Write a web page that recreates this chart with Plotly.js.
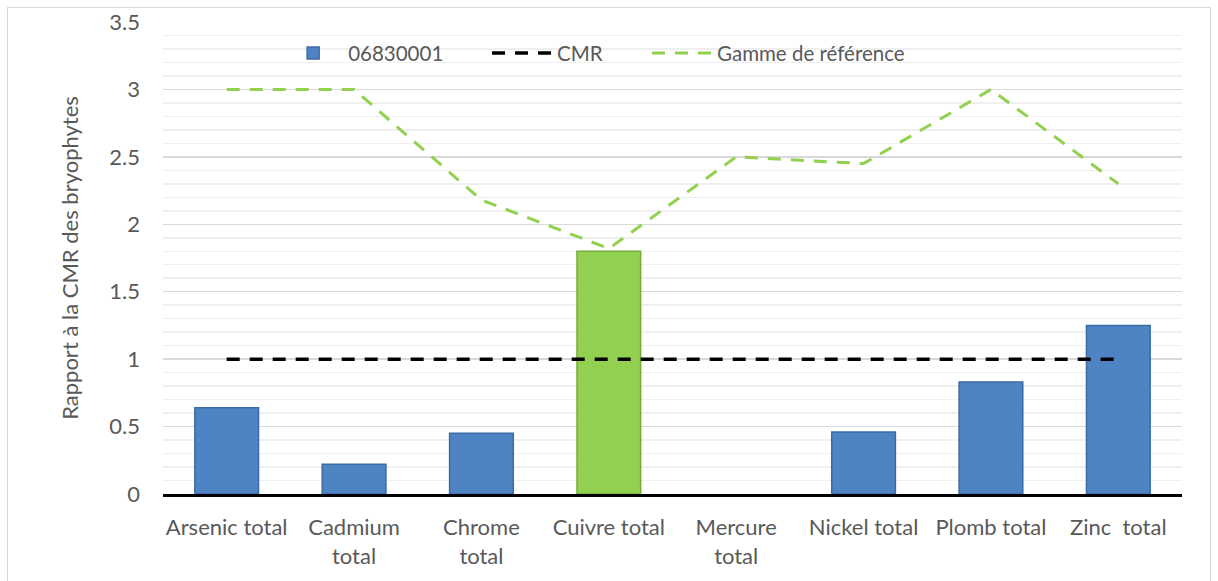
<!DOCTYPE html>
<html>
<head>
<meta charset="utf-8">
<script src="https://cdn.plot.ly/plotly-3.0.1.min.js"></script>
<style>
  html, body { margin: 0; padding: 0; background: #ffffff; }
  #wrap { position: relative; width: 1218px; height: 581px; }
  #chart { width: 1218px; height: 581px; }
  #frame { position: absolute; left: 7px; top: 7px; width: 1202px; height: 590px;
           border: 1px solid #d9d9d9; pointer-events: none; }
</style>
</head>
<body>
<div id="wrap">
  <div id="chart"></div>
  <div id="frame"></div>
</div>
<script>
const categories = ["Arsenic total", "Cadmium<br>total", "Chrome<br>total", "Cuivre total",
                    "Mercure<br>total", "Nickel total", "Plomb total", "Zinc\u00a0 total"];
const stationValues = [0.64, 0.22, 0.45, 1.80, 0, 0.46, 0.83, 1.25];
const cmrValues = [1, 1, 1, 1, 1, 1, 1, 1];
const referenceRange = [3.0, 3.0, 2.18, 1.82, 2.50, 2.45, 3.0, 2.30];
const seriesNames = ["06830001", "CMR", "Gamme de référence"];
const yTickValues = [0, 0.5, 1, 1.5, 2, 2.5, 3, 3.5];

const blue = "#4f84c4";
const green = "#92d050";
const barColors = stationValues.map((v, i) => i === 3 ? green : blue);
const barLines = stationValues.map((v, i) => i === 3 ? "#76ad3a" : "#3b6aa5");
const barLineWidths = stationValues.map(v => v > 0 ? 1.5 : 0);

const font = "Lato, 'Open Sans', sans-serif";
const fs = 22;
const lfs = 20.5;

const traces = [
  {
    type: "bar",
    name: seriesNames[0],
    x: categories,
    y: stationValues,
    legend: "legend",
    marker: { color: barColors, line: { color: barLines, width: barLineWidths } },
    hoverinfo: "x+y"
  },
  {
    type: "scatter",
    mode: "lines",
    name: seriesNames[1],
    x: categories,
    y: cmrValues,
    legend: "legend2",
    line: { color: "#000000", width: 3.5, dash: "13px,10px" }
  },
  {
    type: "scatter",
    mode: "lines",
    name: seriesNames[2],
    x: categories,
    y: referenceRange,
    legend: "legend3",
    line: { color: green, width: 3, dash: "13px,10px" }
  }
];

function legendAt(xpos) {
  return {
    orientation: "h",
    x: xpos, xanchor: "left",
    y: 0.934, yanchor: "middle",
    bgcolor: "rgba(0,0,0,0)",
    font: { family: font, size: lfs, color: "#595959" },
    itemwidth: 60
  };
}

const layout = {
  width: 1218,
  height: 581,
  paper_bgcolor: "#ffffff",
  plot_bgcolor: "#ffffff",
  margin: { l: 163, r: 36, t: 22, b: 87 },
  font: { family: font, size: fs, color: "#595959" },
  bargap: 0.5,
  showlegend: true,
  legend: legendAt(0.113),
  legend2: legendAt(0.318),
  legend3: legendAt(0.475),
  xaxis: {
    type: "category",
    showgrid: false,
    showline: true,
    linecolor: "#000000",
    linewidth: 3,
    ticks: "",
    ticklabelstandoff: 12,
    tickfont: { family: font, size: fs, color: "#595959" },
    fixedrange: true
  },
  yaxis: {
    range: [0, 3.5],
    tickmode: "array",
    tickvals: yTickValues,
    ticktext: yTickValues.map(v => String(v)),
    showgrid: true,
    gridcolor: "#d9d9d9",
    gridwidth: 1.5,
    zeroline: false,
    showline: false,
    ticks: "",
    ticklabelstandoff: 22,
    tickfont: { family: font, size: fs, color: "#595959" },
    minor: { dtick: 0.1, showgrid: true, gridcolor: "#efefef", gridwidth: 1.5 },
    title: { text: "Rapport à la CMR des bryophytes", font: { family: font, size: 22, color: "#595959" }, standoff: 24 },
    fixedrange: true
  }
};

Plotly.newPlot("chart", traces, layout, { displayModeBar: false, staticPlot: true });
</script>
</body>
</html>
